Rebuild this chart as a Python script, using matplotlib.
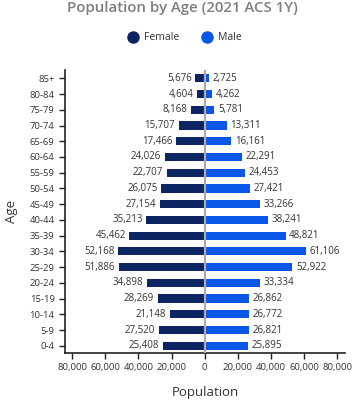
import matplotlib
matplotlib.use("Agg")
import matplotlib.pyplot as plt
from matplotlib.ticker import FuncFormatter
from matplotlib.lines import Line2D

plt.rcParams['font.family'] = ['Open Sans', 'DejaVu Sans']

ages = ["0-4", "5-9", "10-14", "15-19", "20-24", "25-29", "30-34", "35-39",
        "40-44", "45-49", "50-54", "55-59", "60-64", "65-69", "70-74",
        "75-79", "80-84", "85+"]
female = [25408, 27520, 21148, 28269, 34898, 51886, 52168, 45462, 35213,
          27154, 26075, 22707, 24026, 17466, 15707, 8168, 4604, 5676]
male = [25895, 26821, 26772, 26862, 33334, 52922, 61106, 48821, 38241,
        33266, 27421, 24453, 22291, 16161, 13311, 5781, 4262, 2725]
xticks = [-80000, -60000, -40000, -20000, 0, 20000, 40000, 60000, 80000]

c_f = "#0c2461"
c_m = "#0a56e8"
txt = "#333333"

fig = plt.figure(figsize=(3.61, 4.0), dpi=100)
ax = fig.add_axes([0.18, 0.1175, 0.776, 0.7075])

y = list(range(len(ages)))
h = 0.52
ax.barh(y, [-v for v in female], height=h, color=c_f, zorder=2)
ax.barh(y, male, height=h, color=c_m, zorder=2)
ax.axvline(0, color="#aaaaaa", lw=1.6, zorder=3)

for yi, f, m in zip(y, female, male):
    ax.text(-f - 2200, yi, f"{f:,}", ha="right", va="center", fontsize=7, color=txt)
    ax.text(m + 2200, yi, f"{m:,}", ha="left", va="center", fontsize=7, color=txt)

ax.set_xlim(-84300, 84800)
ax.set_ylim(-0.46, 17.53)
ax.set_yticks(y)
ax.set_yticklabels(ages)
ax.set_xticks(xticks)
ax.xaxis.set_major_formatter(FuncFormatter(lambda v, p: f"{abs(int(v)):,}"))
ax.tick_params(axis="both", labelsize=6.8, colors="#222222", labelcolor=txt, length=4, width=1)
for s in ["top", "right"]:
    ax.spines[s].set_visible(False)
for s in ["left", "bottom"]:
    ax.spines[s].set_color("#222222")
    ax.spines[s].set_linewidth(1.2)

ax.set_xlabel("Population", fontsize=9.5, color=txt, labelpad=10)
ax.set_ylabel("Age", fontsize=9.5, color=txt, labelpad=8)

fig.text(0.505, 0.997, "Population by Age (2021 ACS 1Y)", ha="center", va="top",
         fontsize=10.8, fontweight="semibold", color="#7f7f7f")

handles = [Line2D([], [], marker="o", ls="", color=c_f, markersize=8),
           Line2D([], [], marker="o", ls="", color=c_m, markersize=8)]
fig.legend(handles, ["Female", "Male"], loc="center", bbox_to_anchor=(0.505, 0.905),
           ncol=2, frameon=False, fontsize=7.5, handletextpad=0.1, columnspacing=1.6,
           labelcolor=txt)

fig.savefig("out.png", dpi=100)
